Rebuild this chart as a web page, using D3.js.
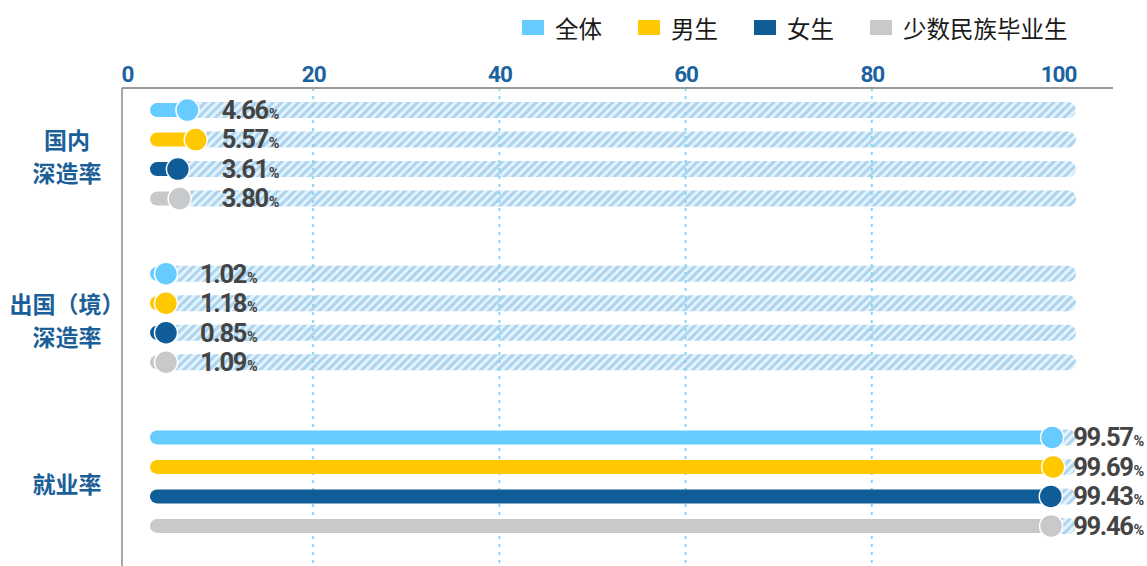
<!DOCTYPE html>
<html><head><meta charset="utf-8">
<script src="https://cdn.jsdelivr.net/npm/d3@7"></script>
<style>body{margin:0;background:#fff}svg{display:block}</style>
</head><body><svg id="c" width="1147" height="566"></svg>
<script>
// ---- data ----
const groups = ["国内深造率", "出国（境）深造率", "就业率"];
const groupLabelLines = [["国内", "深造率"], ["出国（境）", "深造率"], ["就业率"]];
const series = ["全体", "男生", "女生", "少数民族毕业生"];
const seriesColors = ["#66ccff", "#ffc800", "#0f5c96", "#c8c9ca"];
const valuesAll = [4.66, 1.02, 99.57];
const valuesMale = [5.57, 1.18, 99.69];
const valuesFemale = [3.61, 0.85, 99.43];
const valuesMinority = [3.80, 1.09, 99.46];
const tickValues = [0, 20, 40, 60, 80, 100];

// ---- layout constants ----
const W = 1147, H = 566;
const axisY = 88;
const numFont = "Roboto,'DejaVu Sans Condensed',sans-serif";
const cjkFont = "'Noto Sans CJK SC','Noto Sans',sans-serif";
const labelGap = [26, 34, 20];
const circleMin = 166;
const R = 11.5;

const seriesValues = [valuesAll, valuesMale, valuesFemale, valuesMinority];
const rows = [];
groups.forEach((g, gi) => series.forEach((s, si) => rows.push({g, gi, s, si, v: seriesValues[si][gi]})));

const svg = d3.select("#c");
const defs = svg.append("defs");
const pat = defs.append("pattern").attr("id", "hatch").attr("patternUnits", "userSpaceOnUse")
  .attr("width", 6).attr("height", 6).attr("patternTransform", "rotate(45)");
pat.append("rect").attr("width", 6).attr("height", 6).attr("fill", "#e4f2fb");
pat.append("rect").attr("width", 3).attr("height", 6).attr("fill", "#acd4ef");

// scales
const x = d3.scaleLinear().domain([0, 100]).range([127, 1058]);
const barX = d3.scaleLinear().domain([0, 100]).range([145, 1056]);
const gY = d3.scaleBand().domain(groups).range([72.5, 563.5]);
const sY = d3.scaleBand().domain(series).range([-59, 59]);
const color = d3.scaleOrdinal().domain(series).range(seriesColors);
const cyOf = d => gY(d.g) + gY.bandwidth() / 2 + sY(d.s) + sY.bandwidth() / 2;
const cxOf = d => Math.max(barX(d.v), circleMin);
const trackEnd = barX(100) + 20;

// legend
const leg = svg.append("g").attr("class", "legend");
let lx = 522;
series.forEach((s, i) => {
  leg.append("rect").attr("x", lx).attr("y", 20).attr("width", 22).attr("height", 15).attr("fill", color(s));
  const t = leg.append("text").attr("x", lx + 33).attr("y", 27.5).attr("dominant-baseline", "central")
    .attr("font-family", cjkFont).attr("font-size", 23.5).attr("fill", "#1a1a1a").text(s);
  lx += 33 + t.node().getComputedTextLength() + 36;
});

// axis
const axis = d3.axisTop(x).tickValues(tickValues).tickSize(0).tickPadding(6);
const ag = svg.append("g").attr("transform", `translate(0,${axisY})`).call(axis);
ag.select(".domain").remove();
ag.selectAll("text").attr("font-family", numFont).attr("font-weight", "bold").attr("font-size", 22.5)
  .attr("letter-spacing", -1).attr("fill", "#1b63a0");

// tracks (hatched remainder)
svg.append("g").selectAll("rect").data(rows).join("rect")
  .attr("x", cxOf).attr("y", d => cyOf(d) - 8)
  .attr("width", d => trackEnd - cxOf(d)).attr("height", 16).attr("rx", 8)
  .attr("fill", "url(#hatch)");

// grid lines
svg.append("g").selectAll("line").data(tickValues.filter(t => t > 0 && t < 100)).join("line")
  .attr("x1", d => x(d)).attr("x2", d => x(d)).attr("y1", axisY).attr("y2", H)
  .attr("stroke", "#8fd2f4").attr("stroke-width", 2).attr("stroke-dasharray", "3,5");

// axis lines
svg.append("line").attr("x1", 122).attr("x2", 1113).attr("y1", axisY).attr("y2", axisY)
  .attr("stroke", "#9a9a9a").attr("stroke-width", 2);
svg.append("line").attr("x1", 122).attr("x2", 122).attr("y1", axisY).attr("y2", H)
  .attr("stroke", "#8a8a8a").attr("stroke-width", 1.5);

// filled bars
svg.append("g").selectAll("rect").data(rows).join("rect")
  .attr("x", barX(0) + 5).attr("y", d => cyOf(d) - 7)
  .attr("width", d => Math.max(0, cxOf(d) - (barX(0) + 5))).attr("height", 14).attr("rx", 7)
  .attr("fill", d => color(d.s));

// circles
svg.append("g").selectAll("circle").data(rows).join("circle")
  .attr("cx", cxOf).attr("cy", cyOf).attr("r", R)
  .attr("fill", d => color(d.s)).attr("stroke", "#fff").attr("stroke-width", 1.5);

// value labels
const groupMaxCx = groups.map((g, gi) => d3.max(rows.filter(r => r.gi === gi), cxOf));
const lbl = svg.append("g").selectAll("text").data(rows).join("text")
  .attr("x", d => groupMaxCx[d.gi] + labelGap[d.gi]).attr("y", d => cyOf(d) + 8.8)
  .attr("font-family", numFont).attr("font-weight", "bold").attr("fill", "#444");
lbl.append("tspan").attr("font-size", 25.5).attr("letter-spacing", -1.3).text(d => d.v.toFixed(2));
lbl.append("tspan").attr("font-size", 14.5).attr("dx", 1).text("%");

// group labels
groups.forEach((g, gi) => {
  const lines = groupLabelLines[gi];
  const c = gY(g) + gY.bandwidth() / 2 + 1;
  lines.forEach((ln, li) => {
    svg.append("text").attr("x", 67).attr("y", c + (li - (lines.length - 1) / 2) * 33)
      .attr("text-anchor", "middle").attr("dominant-baseline", "central")
      .attr("font-family", cjkFont).attr("font-weight", "bold").attr("font-size", 23)
      .attr("fill", "#1b5f98").text(ln);
  });
});
</script></body></html>
